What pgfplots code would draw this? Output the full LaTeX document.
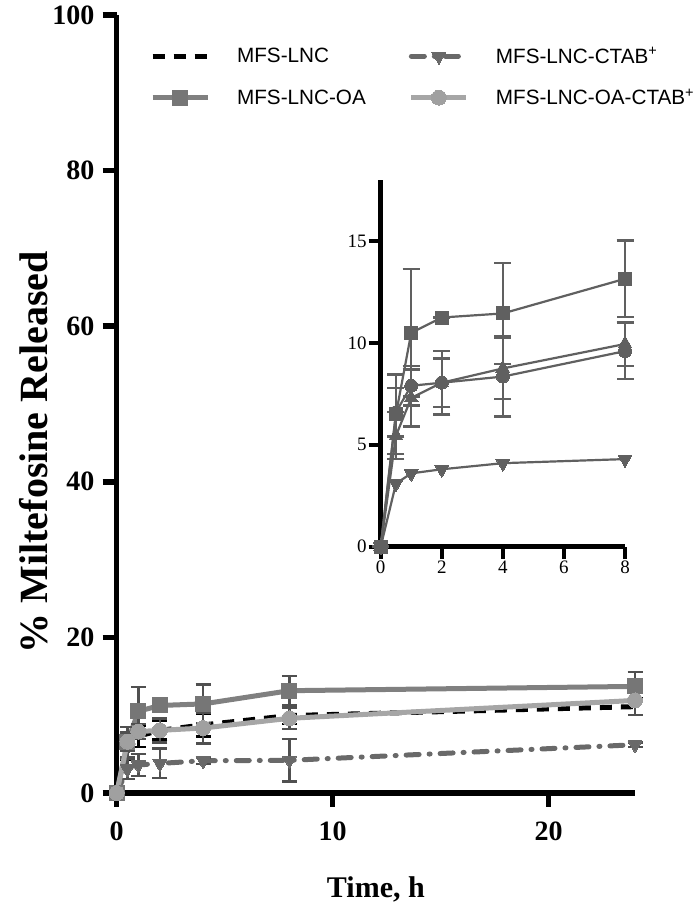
\documentclass[border=0pt]{standalone}
\usepackage{fontspec}
\setmainfont{Liberation Serif}
\newfontfamily\arialf{Liberation Sans}
\usepackage{pgfplots}
\pgfplotsset{compat=1.18}
\usepackage{pgfplotstable}

\definecolor{oal}{RGB}{128,128,128}
\definecolor{oam}{RGB}{118,118,118}
\definecolor{ocl}{RGB}{166,166,166}
\definecolor{ocm}{RGB}{160,160,160}
\definecolor{ctb}{RGB}{105,105,105}
\definecolor{errc}{RGB}{80,80,80}
\definecolor{ins}{RGB}{96,96,96}

\pgfplotstableread{
t y e
0 0 0
0.5 5.45 1.15
1 7.3 1.4
2 8.05 1.2
4 8.75 1.5
8 9.95 1.08
24 11.1 1.1
}\lnc
\pgfplotstableread{
t y e
0 0 0
0.5 3.1 1.3
1 3.6 1.4
2 3.8 1.9
4 4.15 0.4
8 4.2 2.75
24 6.2 0.3
}\ctab
\pgfplotstableread{
t y e
0 0 0
0.5 6.5 1.96
1 10.5 3.13
2 11.25 0.3
4 11.45 2.47
8 13.15 1.88
24 13.7 1.85
}\oa
\pgfplotstableread{
t y e
0 0 0
0.5 6.6 1.2
1 7.9 0.97
2 8.05 1.55
4 8.35 1.97
8 9.6 1.38
24 11.9 1.9
}\oact
\pgfplotstableread{
t y e
0 0 0
0.5 5.45 1.15
1 7.3 1.4
2 8.05 1.2
4 8.75 1.5
8 9.95 1.08
}\ilnc
\pgfplotstableread{
t y
0 0
0.5 3.1
1 3.6
2 3.8
4 4.1
8 4.3
}\ictab
\pgfplotstableread{
t y e
0 0 0
0.5 6.5 1.96
1 10.5 3.13
2 11.25 0.0
4 11.45 2.47
8 13.15 1.88
}\ioa
\pgfplotstableread{
t y e
0 0 0
0.5 6.6 1.2
1 7.9 0.97
2 8.05 1.55
4 8.35 1.97
8 9.6 1.38
}\ioact

\begin{document}
\begin{tikzpicture}[x=1pt,y=1pt]
\useasboundingbox (0,0) rectangle (700,908);
\begin{axis}[
  at={(116.7pt,115pt)}, anchor=south west,
  scale only axis, width=518.3pt, height=778pt,
  xmin=0, xmax=24, ymin=0, ymax=100,
  axis lines=left, axis line style={-, line width=5.5pt, black},
  xtick={0,10,20}, ytick={0,20,40,60,80,100},
  tick align=outside, major tick length=14pt,
  every tick/.style={black, line width=5.5pt},
  /pgf/number format/assume math mode=true,
  tick label style={font=\bfseries\fontsize{28}{28}\selectfont, inner sep=0pt},
  yticklabel style={anchor=east, xshift=-8pt},
  xticklabel style={anchor=north, yshift=-15pt},
  every axis y label/.style={at={(rel axis cs:0,0.438)}, rotate=90, anchor=center, yshift=83pt},
  ylabel={\bfseries\fontsize{40}{40}\selectfont \% Miltefosine Released},
  every axis x label/.style={at={(rel axis cs:0.5,0)}, anchor=base, yshift=-104.7pt},
  xlabel={\bfseries\fontsize{30}{30}\selectfont Time, h},
  clip=false,
  legend columns=2,
  legend style={at={(axis description cs:0.064,0.961)}, anchor=north west, draw=none, fill=none,
    font=\arialf\fontsize{20.7}{20.7}\selectfont, inner sep=0pt, row sep=20pt,
    /tikz/every odd column/.append style={column sep=25pt},
    /tikz/every even column/.append style={column sep=41pt}},
  legend cell align=left,
  legend image code/.code={\draw[mark repeat=2, mark phase=2, #1] plot coordinates {(0pt,0pt) (27.5pt,0pt) (55pt,0pt)};},
]
\addplot[black, line width=5pt, dash pattern=on 12pt off 9pt, mark=none,
  error bars/.cd, y dir=both, y explicit,
  error bar style={solid, line width=2.5pt, color=black},
  error mark options={solid, rotate=90, mark size=7.5pt, line width=2.5pt, color=black}]
  table[x=t, y=y, y error=e] {\lnc};
\addlegendentry{MFS-LNC}
\addplot[ctb, line width=5pt, line cap=round, dash pattern=on 13pt off 10pt on 1pt off 10pt,
  mark=triangle*, mark size=8pt, mark options={solid, rotate=180, fill=ctb, draw=ctb, line width=0pt},
  error bars/.cd, y dir=both, y explicit,
  error bar style={solid, line cap=butt, line width=2.5pt, color=errc},
  error mark options={solid, rotate=90, mark size=7.5pt, line width=2.5pt, color=errc}]
  table[x=t, y=y, y error=e] {\ctab};
\addlegendentry{MFS-LNC-CTAB\textsuperscript{+}}
\addplot[oal, line width=5pt, mark=square*, mark size=7.5pt, mark options={fill=oam, draw=oam, line width=0pt},
  error bars/.cd, y dir=both, y explicit,
  error bar style={line width=2.5pt, color=errc},
  error mark options={rotate=90, mark size=7.5pt, line width=2.5pt, color=errc}]
  table[x=t, y=y, y error=e] {\oa};
\addlegendentry{MFS-LNC-OA}
\addplot[ocl, line width=5pt, mark=*, mark size=7.5pt, mark options={fill=ocm, draw=ocm, line width=0pt},
  error bars/.cd, y dir=both, y explicit,
  error bar style={line width=2.5pt, color=errc},
  error mark options={rotate=90, mark size=7.5pt, line width=2.5pt, color=errc}]
  table[x=t, y=y, y error=e] {\oact};
\addlegendentry{MFS-LNC-OA-CTAB\textsuperscript{+}}
\end{axis}

\begin{axis}[
  at={(380.7pt,361.3pt)}, anchor=south west,
  scale only axis, width=244.3pt, height=366.7pt,
  xmin=0, xmax=8, ymin=0, ymax=18,
  axis lines=left, axis line style={-, line width=4.5pt, black},
  xtick={0,2,4,6,8}, ytick={0,5,10,15},
  tick align=outside, major tick length=12pt,
  every tick/.style={black, line width=4pt},
  /pgf/number format/assume math mode=true,
  tick label style={font=\fontsize{19}{19}\selectfont, inner sep=0pt},
  yticklabel style={anchor=east, xshift=-2pt},
  xticklabel style={anchor=north, yshift=-2pt},
  clip=false,
]
\addplot[ins, line width=2.2pt, mark=triangle*, mark size=8pt, mark options={fill=ins, line width=0pt},
  error bars/.cd, y dir=both, y explicit,
  error bar style={line width=2.5pt, color=ins},
  error mark options={rotate=90, mark size=8.5pt, line width=2.5pt, color=ins}]
  table[x=t, y=y, y error=e] {\ilnc};
\addplot[ins, line width=2.2pt, mark=triangle*, mark size=8pt, mark options={rotate=180, fill=ins, line width=0pt}]
  table[x=t, y=y] {\ictab};
\addplot[ins, line width=2.2pt, mark=*, mark size=6.5pt, mark options={fill=ins, line width=0pt},
  error bars/.cd, y dir=both, y explicit,
  error bar style={line width=2.5pt, color=ins},
  error mark options={rotate=90, mark size=8.5pt, line width=2.5pt, color=ins}]
  table[x=t, y=y, y error=e] {\ioact};
\addplot[ins, line width=2.2pt, mark=square*, mark size=6.5pt, mark options={fill=ins, line width=0pt},
  error bars/.cd, y dir=both, y explicit,
  error bar style={line width=2.5pt, color=ins},
  error mark options={rotate=90, mark size=8.5pt, line width=2.5pt, color=ins}]
  table[x=t, y=y, y error=e] {\ioa};
\end{axis}
\end{tikzpicture}
\end{document}
